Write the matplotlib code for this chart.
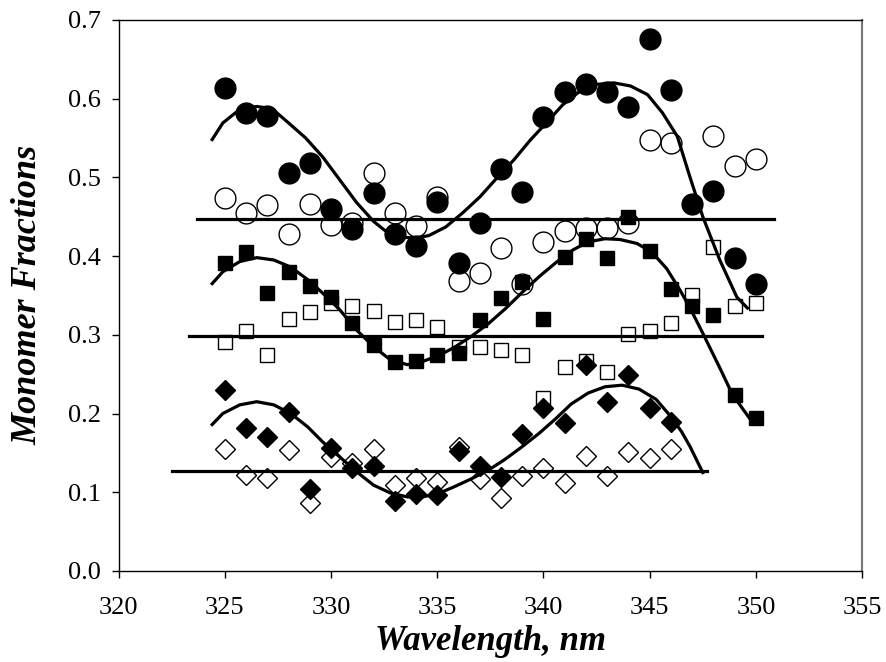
import matplotlib.pyplot as plt

plt.rcParams['font.family'] = ['Liberation Serif', 'DejaVu Serif']

wl = [325, 326, 327, 328, 329, 330, 331, 332, 333, 334, 335, 336, 337,
      338, 339, 340, 341, 342, 343, 344, 345, 346, 347, 348, 349, 350]

circ_filled = [0.614, 0.582, 0.578, 0.505, 0.518, 0.460, 0.434, 0.480, 0.428,
               0.413, 0.469, 0.391, 0.442, 0.511, 0.481, 0.577, 0.608, 0.619,
               0.608, 0.589, 0.676, 0.611, 0.466, 0.483, 0.398, 0.365]
wl_open_circ = [325, 326, 327, 328, 329, 330, 331, 332, 333, 334, 335, 336,
                337, 338, 339, 340, 341, 342, 343, 344, 345, 346, 348, 349, 350]
circ_open = [0.474, 0.455, 0.465, 0.428, 0.466, 0.440, 0.442, 0.506, 0.455,
             0.438, 0.475, 0.368, 0.379, 0.410, 0.365, 0.418, 0.432, 0.436,
             0.436, 0.442, 0.548, 0.543, 0.552, 0.515, 0.523]

sq_filled = [0.391, 0.405, 0.353, 0.380, 0.362, 0.348, 0.315, 0.287, 0.266,
             0.267, 0.274, 0.277, 0.319, 0.347, 0.367, 0.320, 0.399, 0.422,
             0.398, 0.450, 0.407, 0.358, 0.337, 0.325, 0.224, 0.194]
sq_open = [0.291, 0.305, 0.274, 0.320, 0.329, 0.340, 0.337, 0.330, 0.316,
           0.319, 0.310, 0.285, 0.284, 0.281, 0.274, 0.220, 0.259, 0.267,
           0.253, 0.301, 0.305, 0.315, 0.350, 0.412, 0.337, 0.341]

wl_dia = wl[:22]
dia_filled = [0.230, 0.182, 0.170, 0.202, 0.104, 0.156, 0.131, 0.133, 0.089,
              0.098, 0.097, 0.152, 0.133, 0.119, 0.174, 0.207, 0.188, 0.262,
              0.215, 0.249, 0.207, 0.189]
dia_open = [0.155, 0.122, 0.118, 0.154, 0.086, 0.145, 0.137, 0.155, 0.109,
            0.118, 0.113, 0.158, 0.117, 0.093, 0.121, 0.131, 0.112, 0.146,
            0.121, 0.151, 0.144, 0.155]

# fitted curves
fit1_x = [324.4, 324.9, 325.5, 326.0, 326.5, 327.0, 327.4, 328.0, 328.8, 329.6,
          330.4, 331.2, 332.0, 332.6, 333.2, 334.0, 334.6, 335.4, 336.2, 337.0,
          337.8, 338.6, 339.4, 340.2, 340.9, 341.7, 342.5, 343.3, 344.1, 344.9,
          345.6, 346.3, 346.9, 347.5, 348.3, 349.1, 349.6]
fit1_y = [0.548, 0.569, 0.582, 0.588, 0.590, 0.588, 0.583, 0.569, 0.550, 0.526,
          0.497, 0.468, 0.444, 0.431, 0.424, 0.423, 0.426, 0.437, 0.455, 0.475,
          0.499, 0.522, 0.548, 0.571, 0.592, 0.609, 0.618, 0.620, 0.616, 0.605,
          0.582, 0.552, 0.500, 0.450, 0.395, 0.348, 0.334]

fit2_x = [324.4, 324.9, 325.7, 326.5, 327.3, 328.1, 328.9, 329.6, 330.4, 331.2,
          332.0, 332.8, 333.6, 334.3, 335.1, 335.8, 336.6, 337.4, 338.2, 339.0,
          339.8, 340.6, 341.4, 342.1, 342.9, 343.6, 344.4, 345.1, 345.8, 346.4,
          346.9, 347.5, 348.3, 348.9, 349.7]
fit2_y = [0.365, 0.380, 0.393, 0.398, 0.395, 0.386, 0.370, 0.353, 0.332, 0.306,
          0.285, 0.268, 0.262, 0.266, 0.274, 0.284, 0.298, 0.314, 0.333, 0.354,
          0.374, 0.392, 0.408, 0.418, 0.422, 0.421, 0.416, 0.405, 0.384, 0.358,
          0.334, 0.302, 0.258, 0.224, 0.194]

fit3_x = [324.4, 324.9, 325.7, 326.5, 327.3, 328.1, 328.9, 329.6, 330.4, 331.2,
          332.0, 332.8, 333.6, 334.3, 335.1, 335.8, 336.6, 337.4, 338.2, 339.0,
          339.8, 340.6, 341.3, 342.1, 342.9, 343.7, 344.5, 345.3, 346.0, 346.5,
          346.9, 347.5]
fit3_y = [0.186, 0.200, 0.211, 0.215, 0.211, 0.200, 0.183, 0.164, 0.145, 0.126,
          0.109, 0.099, 0.094, 0.094, 0.099, 0.107, 0.117, 0.128, 0.142, 0.158,
          0.175, 0.194, 0.212, 0.226, 0.234, 0.236, 0.231, 0.218, 0.196, 0.177,
          0.158, 0.125]

# horizontal reference levels: (value, start, end)
levels = [0.447, 0.299, 0.127]
level_start = [323.7, 323.3, 322.5]
level_end = [350.85, 350.3, 347.7]

fig = plt.figure(figsize=(8.86, 6.62), dpi=100)
ax = fig.add_axes([0.134, 0.1375, 0.839, 0.8325])

for lv, a, b in zip(levels, level_start, level_end):
    ax.plot([a, b], [lv, lv], color='black', lw=2.3, zorder=2)

ax.plot(fit1_x, fit1_y, color='black', lw=2.3, zorder=2)
ax.plot(fit2_x, fit2_y, color='black', lw=2.3, zorder=2)
ax.plot(fit3_x, fit3_y, color='black', lw=2.3, zorder=2)

ax.plot(wl_open_circ, circ_open, 'o', ms=15, mfc='none', mec='black', mew=1.0, zorder=3)
ax.plot(wl, circ_filled, 'o', ms=15, color='black', zorder=4)
ax.plot(wl, sq_open, 's', ms=10.5, mfc='none', mec='black', mew=1.0, zorder=3)
ax.plot(wl, sq_filled, 's', ms=10.5, color='black', zorder=4)
ax.plot(wl_dia, dia_open, 'D', ms=10.5, mfc='none', mec='black', mew=1.0, zorder=3)
ax.plot(wl_dia, dia_filled, 'D', ms=10.5, color='black', zorder=4)

ax.set_xlim(320, 355)
ax.set_ylim(0, 0.7)
ax.set_xticks(range(320, 356, 5))
ax.set_yticks([0.0, 0.1, 0.2, 0.3, 0.4, 0.5, 0.6, 0.7])
ax.set_yticklabels(['0.0', '0.1', '0.2', '0.3', '0.4', '0.5', '0.6', '0.7'])
ax.tick_params(direction='out', length=5, width=1, labelsize=19)
ax.tick_params(axis='x', pad=14)
ax.tick_params(axis='y', pad=8)
for s in ax.spines.values():
    s.set_linewidth(1.0)
ax.spines['right'].set_color('#777777')
ax.spines['right'].set_linewidth(1.5)

ax.set_xlabel('Wavelength, nm', fontsize=25, fontweight='bold', style='italic', va='top')
ax.set_ylabel('Monomer Fractions', fontsize=26, fontweight='bold', style='italic')
ax.xaxis.set_label_coords(0.5, -0.098)
ax.yaxis.set_label_coords(-0.1, 0.5)

fig.savefig('out.png', dpi=100)
